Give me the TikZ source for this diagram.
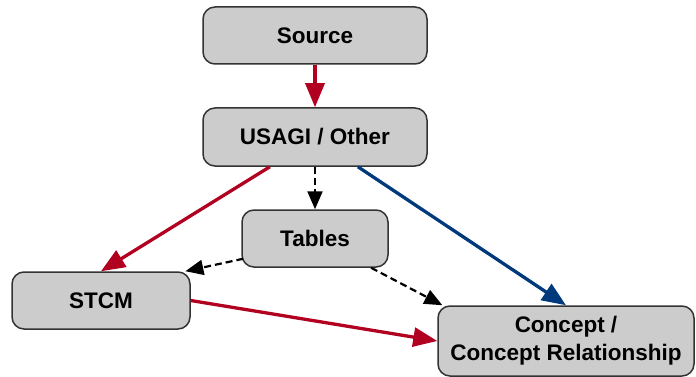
\documentclass[tikz,border=0pt]{standalone}
\usepackage{fontspec}
\setmainfont{Liberation Sans}
\usetikzlibrary{arrows.meta,calc}
\definecolor{boxfill}{RGB}{204,204,204}
\definecolor{boxline}{RGB}{51,51,51}
\definecolor{redline}{RGB}{178,0,32}
\definecolor{blueline}{RGB}{0,58,125}
\tikzset{
  box/.style={draw=boxline, line width=1.5pt, fill=boxfill, rounded corners=12pt,
    font=\fontsize{22.5}{28}\selectfont\bfseries, align=center, inner sep=0pt},
  redconn/.style={line width=3.3pt, draw=redline, -{Triangle[length=24pt,width=19pt,fill=redline]}},
  blueconn/.style={line width=3.3pt, draw=blueline, -{Triangle[length=24pt,width=19pt,fill=blueline]}},
  dashconn/.style={line width=2.2pt, draw=black, dash pattern=on 7pt off 4pt,
    -{Triangle[length=18pt,width=15pt]}}
}
\begin{document}
\begin{tikzpicture}[x=1pt,y=-1pt]
\useasboundingbox (0,0) rectangle (696,377);
\node[box, minimum width=224pt, minimum height=57pt] (source) at (315,35.5) {Source};
\node[box, minimum width=224pt, minimum height=58pt] (usagi) at (315,137) {USAGI / Other};
\node[box, minimum width=146pt, minimum height=57pt] (tables) at (315,238.5) {Tables};
\node[box, minimum width=178pt, minimum height=57pt] (stcm) at (101,300.5) {STCM};
\node[box, minimum width=256pt, minimum height=70pt] (concept) at (566,341) {Concept /\\Concept Relationship};

\draw[redconn] (source.south) -- (usagi.north);
\draw[dashconn] (usagi.south) -- (tables.north);
\draw[redconn] ($(usagi.south west)!0.30!(usagi.south east)$) -- (stcm.north);
\draw[blueconn] ($(usagi.south west)!0.69!(usagi.south east)$) -- (concept.north);
\draw[dashconn] ($(tables.south west)+(2,-9)$) -- ($(stcm.north west)!0.97!(stcm.north east)$);
\draw[dashconn] ($(tables.south west)!0.88!(tables.south east)$) -- ($(concept.north west)!0.02!(concept.north east)$);
\draw[redconn] (stcm.east) -- (concept.west);
\end{tikzpicture}
\end{document}
